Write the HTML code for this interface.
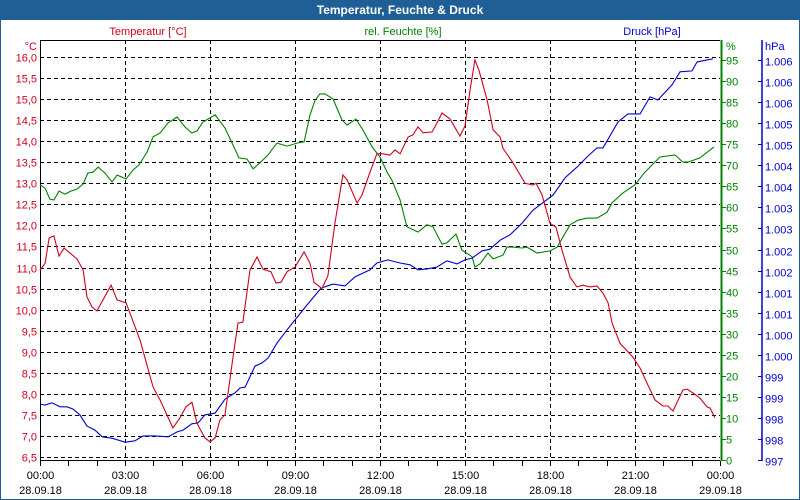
<!DOCTYPE html>
<html><head><meta charset="utf-8"><style>
html,body{margin:0;padding:0;background:#fff;}
svg{display:block;font-family:"Liberation Sans",sans-serif;font-size:11px;}
</style></head><body>
<svg id="chart" width="800" height="500" viewBox="0 0 800 500">
<rect x="0.5" y="0.5" width="799" height="499" fill="#fff" stroke="#1f5f96"/>
<rect x="0" y="0" width="800" height="20" fill="#1f5f96"/>
<text x="400" y="14" fill="#fff" font-weight="bold" font-size="12" text-anchor="middle">Temperatur, Feuchte &amp; Druck</text>
<text x="148" y="35" fill="#d0001c" text-anchor="middle">Temperatur [°C]</text>
<text x="403" y="35" fill="#008000" text-anchor="middle">rel. Feuchte [%]</text>
<text x="652" y="35" fill="#0000d0" text-anchor="middle">Druck [hPa]</text>
<text x="37" y="50" fill="#d0001c" text-anchor="end">°C</text>
<text x="726" y="50" fill="#008000">%</text>
<text x="765" y="50" fill="#0000d0">hPa</text>
<g id="grid"></g>
<g id="axes"></g>
<g id="series"></g>
</svg>
<script>
const tempTicks=[16.0,15.5,15.0,14.5,14.0,13.5,13.0,12.5,12.0,11.5,11.0,10.5,10.0,9.5,9.0,8.5,8.0,7.5,7.0,6.5];
const humTicks=[0,5,10,15,20,25,30,35,40,45,50,55,60,65,70,75,80,85,90,95];
const presLabels=["997","998","998","999","999","1.000","1.000","1.001","1.001","1.002","1.002","1.003","1.003","1.004","1.004","1.005","1.005","1.006","1.006","1.006"];
const timeLabels=["00:00","03:00","06:00","09:00","12:00","15:00","18:00","21:00","00:00"];
const dateLabels=["28.09.18","28.09.18","28.09.18","28.09.18","28.09.18","28.09.18","28.09.18","28.09.18","29.09.18"];
const tempTimes=[0,0.18,0.32,0.49,0.67,0.85,1.31,1.52,1.66,1.84,2.01,2.51,2.72,3.04,3.53,3.99,4.24,4.69,4.94,5.15,5.36,5.54,5.82,6.0,6.18,6.35,6.53,6.81,6.99,7.16,7.41,7.66,7.87,8.15,8.33,8.51,8.72,9.0,9.32,9.53,9.67,9.95,10.16,10.41,10.69,10.84,11.19,11.36,11.65,11.89,12.11,12.35,12.53,12.71,12.99,13.16,13.34,13.52,13.84,14.01,14.19,14.47,14.82,15.0,15.18,15.35,15.49,15.78,15.99,16.24,16.34,16.69,17.12,17.4,17.51,17.72,18.0,18.21,18.42,18.71,18.95,19.16,19.41,19.66,19.87,20.05,20.19,20.47,20.93,21.18,21.42,21.71,21.99,22.16,22.34,22.52,22.69,22.84,23.05,23.29,23.54,23.65,23.82];
const tempValues=[10.94,11.1,11.7,11.75,11.27,11.46,11.2,10.94,10.3,10.06,9.97,10.58,10.23,10.16,9.28,8.16,7.85,7.19,7.43,7.69,7.8,7.3,6.95,6.86,6.95,7.38,7.5,8.87,9.68,9.7,10.94,11.25,10.96,10.9,10.63,10.65,10.9,11.01,11.37,11.1,10.65,10.5,10.8,12.05,13.2,13.08,12.53,12.72,13.27,13.7,13.7,13.67,13.79,13.7,14.1,14.15,14.34,14.2,14.22,14.43,14.67,14.53,14.12,14.36,15.22,15.93,15.69,14.98,14.27,14.1,13.83,13.49,13.0,12.96,13.0,12.72,12.05,11.96,11.42,10.77,10.54,10.58,10.54,10.56,10.39,10.16,9.68,9.2,8.87,8.61,8.26,7.85,7.71,7.71,7.59,7.85,8.09,8.11,8.02,7.9,7.69,7.66,7.43];
const humTimes=[0,0.18,0.35,0.49,0.67,0.88,1.09,1.31,1.52,1.69,1.87,2.05,2.29,2.54,2.72,3.04,3.28,3.49,3.78,3.99,4.24,4.52,4.84,5.12,5.36,5.54,5.75,6.18,6.53,6.78,7.02,7.31,7.52,7.76,8.05,8.36,8.72,9.07,9.32,9.53,9.71,9.88,10.06,10.34,10.66,10.84,11.15,11.4,11.72,12.0,12.25,12.42,12.71,12.95,13.34,13.66,13.87,14.19,14.36,14.68,14.89,15.25,15.35,15.53,15.81,15.99,16.34,16.48,16.69,17.01,17.19,17.54,18.0,18.25,18.71,18.99,19.31,19.66,20.01,20.19,20.58,21.0,21.35,21.88,22.41,22.69,22.87,23.29,23.79];
const humValues=[65.6,64.8,62.2,62.0,64.1,63.4,64.1,64.6,65.8,68.4,68.6,69.8,68.4,66.3,67.9,67.0,69.1,70.3,73.4,77.0,77.9,80.3,81.7,79.3,77.9,78.4,80.5,82.2,79.1,75.5,72.0,71.7,69.4,70.8,72.7,75.5,74.8,75.5,75.8,82.2,85.7,87.2,87.2,86.0,81.0,79.8,81.2,78.6,74.6,72.2,68.6,66.7,62.0,55.6,54.4,56.1,55.6,51.5,51.8,53.9,50.1,48.5,46.1,46.8,49.4,48.0,48.9,50.8,50.8,50.6,50.8,49.4,49.9,50.8,56.1,57.2,57.7,57.7,59.1,61.3,63.7,65.6,68.6,72.2,72.7,71.0,71.0,72.0,74.6];
const presTimes=[0,0.18,0.42,0.71,0.95,1.16,1.41,1.66,1.94,2.19,2.54,3.0,3.35,3.64,4.06,4.52,4.84,5.05,5.36,5.58,5.82,6.18,6.53,6.88,7.06,7.24,7.59,7.84,8.05,8.36,8.72,9.0,9.42,9.92,10.34,10.76,11.12,11.65,11.89,12.28,12.71,13.06,13.34,13.66,14.01,14.36,14.72,15.0,15.25,15.6,15.88,16.24,16.59,17.01,17.4,18.11,18.53,18.95,19.31,19.66,19.87,20.4,20.75,21.18,21.53,21.81,22.31,22.59,23.01,23.19,23.75];
const presValues=[998.57,998.55,998.6,998.51,998.51,998.46,998.33,998.08,997.99,997.84,997.81,997.72,997.75,997.86,997.86,997.84,997.95,997.99,998.13,998.15,998.33,998.37,998.68,998.82,998.93,998.95,999.42,999.49,999.6,999.93,1000.23,1000.45,1000.78,1001.16,1001.25,1001.21,1001.41,1001.57,1001.72,1001.79,1001.72,1001.68,1001.57,1001.59,1001.63,1001.77,1001.7,1001.79,1001.83,1001.99,1002.03,1002.23,1002.35,1002.61,1002.9,1003.24,1003.62,1003.86,1004.09,1004.29,1004.29,1004.87,1005.05,1005.05,1005.43,1005.36,1005.7,1005.99,1006.01,1006.21,1006.28];

const NS="http://www.w3.org/2000/svg";
const X0=40,X1=720,Y0=40,YB=461;
function xScale(h){return X0+h*(X1-X0)/24;}
function yTemp(t){return 57+(16-t)/0.5*21.05;}
function yHum(v){return YB-v*4.21;}
function yPres(p){return YB-(p-997.3)/0.47*21.05;}
function mk(tag,attrs,parent){const e=document.createElementNS(NS,tag);for(const k in attrs)e.setAttribute(k,attrs[k]);parent.appendChild(e);return e;}
const grid=document.getElementById('grid'),axes=document.getElementById('axes'),series=document.getElementById('series');

tempTicks.forEach(t=>{
  const y=Math.round(yTemp(t))+0.5;
  const l=mk('line',{x1:X0,x2:X1,y1:y,y2:y,stroke:'#000','stroke-dasharray':'4,3'},grid);
  
  
  const tx=mk('text',{x:37,y:y+4,fill:'#d0001c','text-anchor':'end'},axes);
  tx.textContent=t.toFixed(1).replace('.',',');
  
  
});
timeLabels.forEach((s,i)=>{
  const x=Math.round(xScale(i*3))+0.5;
  if(i>0&&i<8){
    const l=mk('line',{x1:x,x2:x,y1:Y0,y2:YB,stroke:'#000','stroke-dasharray':'4,3'},grid);
    
    
  }
  const t=mk('text',{x:x,y:479,fill:'#000','text-anchor':'middle'},axes);
  t.textContent=s;
  
  
  const d=mk('text',{x:x,y:494,fill:'#000','text-anchor':'middle'},axes);
  d.textContent=dateLabels[i];
  
  
});
for(let h=0;h<=24;h++){
  const x=Math.round(xScale(h))+0.5;
  const tk=mk('line',{x1:x,x2:x,y1:YB,y2:YB+5,stroke:'#000'},axes);
  
  
}
const frame=mk('path',{d:`M${X0+0.5},${YB} V${Y0+0.5} H${X1}`,fill:'none',stroke:'#000'},axes);


const xa=mk('line',{x1:X0,x2:X1,y1:YB-0.5,y2:YB-0.5,stroke:'#000'},axes);


const ga=mk('line',{x1:721.5,x2:721.5,y1:Y0,y2:YB,stroke:'#008000',"stroke-width":2},axes);


const pa=mk('line',{x1:762,x2:762,y1:Y0,y2:YB,stroke:'#0000d0',"stroke-width":1.5},axes);


humTicks.forEach((v,i)=>{
  const y=Math.round(yHum(v))-0.5;
  const tk=mk('line',{x1:722,x2:726,y1:y,y2:y,stroke:'#008000'},axes);
  
  
  const t=mk('text',{x:726,y:y+4,fill:'#008000'},axes);
  t.textContent=String(v);
  
  
  const pk=mk('line',{x1:758,x2:762,y1:y,y2:y,stroke:'#0000d0'},axes);
  
  
  const p=mk('text',{x:765,y:y+5,fill:'#0000d0'},axes);
  p.textContent=presLabels[i];
  
  
});
function line(times,vals,yf,color,name){
  const pts=times.map((t,i)=>xScale(t).toFixed(1)+','+yf(vals[i]).toFixed(1)).join(' ');
  const pl=mk('polyline',{points:pts,fill:'none',stroke:color,'stroke-width':1.1},series);
  
  
}
line(humTimes,humValues,yHum,'#008000','humidity-line');
line(presTimes,presValues,yPres,'#0000d0','pressure-line');
line(tempTimes,tempValues,yTemp,'#d0001c','temperature-line');
</script>
</body></html>
